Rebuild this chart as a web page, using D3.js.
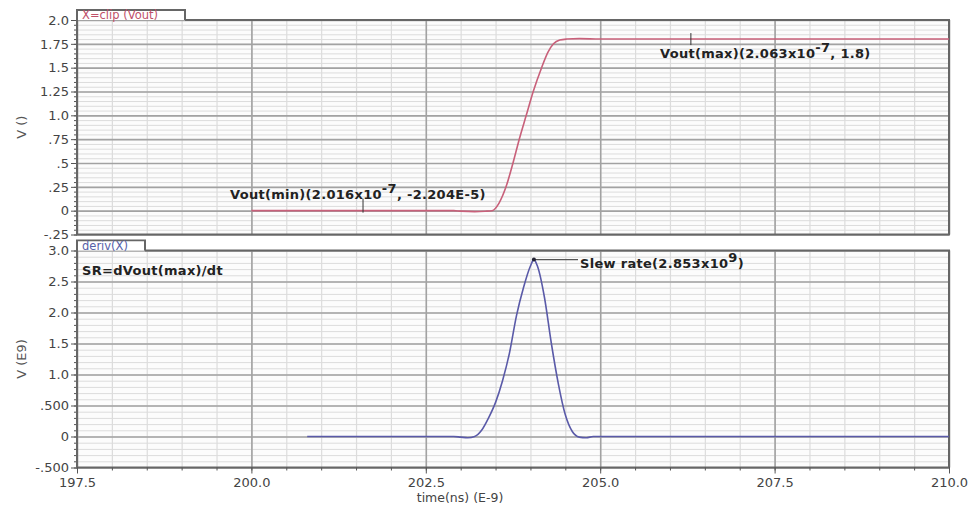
<!DOCTYPE html>
<html>
<head>
<meta charset="utf-8">
<script src="https://cdn.jsdelivr.net/npm/d3@7"></script>
<style>
  html, body { margin: 0; padding: 0; background: #fff; }
  svg { display: block; font-family: "DejaVu Sans", sans-serif; }
</style>
</head>
<body>
<svg id="chart" width="975" height="507"></svg>
<script>
// Transient output voltage (V) vs time (ns)
const voutTime = [200.0, 202.5, 202.9, 203.0, 203.2, 203.35, 203.45, 203.55, 203.65, 203.75, 203.84, 203.94, 204.04, 204.16, 204.25, 204.33, 204.42, 204.52, 204.7, 205.0, 210.0];
const voutValue = [0, 0, 0, -0.005, -0.01, -0.006, 0.0, 0.08, 0.25, 0.50, 0.75, 1.00, 1.25, 1.50, 1.66, 1.75, 1.79, 1.80, 1.805, 1.80, 1.80];

// Derivative of Vout (V/s, in units of 1e9)
const derivTime = [200.8, 202.9, 203.0, 203.1, 203.2, 203.3, 203.4, 203.5, 203.6, 203.7, 203.8, 203.9, 204.0, 204.05, 204.1, 204.2, 204.3, 204.4, 204.5, 204.6, 204.7, 204.8, 204.9, 210.0];
const derivValue = [0, 0, -0.01, -0.02, 0.0, 0.1, 0.3, 0.55, 0.9, 1.35, 1.95, 2.4, 2.75, 2.853, 2.75, 2.25, 1.5, 0.85, 0.35, 0.08, -0.01, -0.02, 0, 0];

// Axis ticks and labels
const xTicks = [197.5, 200.0, 202.5, 205.0, 207.5, 210.0];
const xTickLabels = ["197.5", "200.0", "202.5", "205.0", "207.5", "210.0"];
const topTicks = [2.0, 1.75, 1.5, 1.25, 1.0, 0.75, 0.5, 0.25, 0, -0.25];
const topTickLabels = ["2.0", "1.75", "1.5", "1.25", "1.0", ".75", ".5", ".25", "0", "-.25"];
const botTicks = [3.0, 2.5, 2.0, 1.5, 1.0, 0.5, 0, -0.5];
const botTickLabels = ["3.0", "2.5", "2.0", "1.5", "1.0", ".500", "0", "-.500"];

// Marker points
const voutMin = { t: 201.6, v: -2.204e-5 };
const voutMax = { t: 206.3, v: 1.8 };
const slewPeak = { t: 204.05, v: 2.853 };

const svg = d3.select("#chart");
const L = 77, R = 949;
const x = d3.scaleLinear().domain([197.5, 210]).range([L, R]);
const yTop = d3.scaleLinear().domain([-0.25, 2.0]).range([234.5, 20]);
const yBot = d3.scaleLinear().domain([-0.5, 3.0]).range([467.5, 250.5]);

const minorX = d3.range(197.5, 210.001, 0.5);
const gridMinor = "#dcdcdc", gridMajor = "#a2a2a2", frameCol = "#666";

function panel(y, majors, labels, minorStep, tabText, tabColor, tabWidth) {
  const [y0, y1] = y.domain();
  const top = y.range()[1], bottom = y.range()[0];
  const g = svg.append("g");
  g.append("rect").attr("x", L).attr("y", top).attr("width", R - L).attr("height", bottom - top).attr("fill", "#fcfcfc");

  const minorY = d3.range(y0, y1 + 1e-9, minorStep);
  // minor grid
  g.append("g").call(d3.axisLeft(y).tickValues(minorY).tickSize(-(R - L)).tickFormat(""))
    .attr("transform", `translate(${L},0)`)
    .call(a => { a.select(".domain").remove(); a.selectAll("line").attr("stroke", gridMinor).attr("stroke-width", 1); });
  g.append("g").call(d3.axisBottom(x).tickValues(minorX).tickSize(-(bottom - top)).tickFormat(""))
    .attr("transform", `translate(0,${bottom})`)
    .call(a => { a.select(".domain").remove(); a.selectAll("line").attr("stroke", gridMinor).attr("stroke-width", 1.2); });
  // major grid
  g.append("g").call(d3.axisLeft(y).tickValues(majors).tickSize(-(R - L)).tickFormat(""))
    .attr("transform", `translate(${L},0)`)
    .call(a => { a.select(".domain").remove(); a.selectAll("line").attr("stroke", gridMajor).attr("stroke-width", 1.6); });
  g.append("g").call(d3.axisBottom(x).tickValues(xTicks).tickSize(-(bottom - top)).tickFormat(""))
    .attr("transform", `translate(0,${bottom})`)
    .call(a => { a.select(".domain").remove(); a.selectAll("line").attr("stroke", gridMajor).attr("stroke-width", 1.6); });

  // left axis: minor ticks + labelled major ticks
  g.append("g").attr("transform", `translate(${L},0)`)
    .call(d3.axisLeft(y).tickValues(minorY).tickSize(3).tickFormat(""))
    .call(a => { a.select(".domain").remove(); a.selectAll("line").attr("stroke", "#555"); });
  g.append("g").attr("transform", `translate(${L},0)`)
    .call(d3.axisLeft(y).tickValues(majors).tickSize(6).tickPadding(2)
      .tickFormat((d, i) => labels[i]))
    .call(a => {
      a.select(".domain").remove();
      a.selectAll("line").attr("stroke", "#555");
      a.selectAll("text").attr("font-size", 13).attr("fill", "#444").attr("font-family", "DejaVu Sans, sans-serif");
    });

  // frame with the trace name tab
  g.append("path")
    .attr("d", `M${L + tabWidth},${top} H${R} V${bottom} H${L} V${top - 10} H${L + tabWidth} V${top}`)
    .attr("fill", "none").attr("stroke", frameCol).attr("stroke-width", 2);
  g.append("rect").attr("x", L + 1).attr("y", top - 9).attr("width", tabWidth - 2).attr("height", 9).attr("fill", "#fff");
  g.append("text").attr("x", L + 5).attr("y", top - 1).attr("font-size", 11.5).attr("fill", tabColor).text(tabText);
  return g;
}

panel(yTop, topTicks, topTickLabels, 0.05, "X=clip (Vout)", "#c0506a", 108);
panel(yBot, botTicks, botTickLabels, 0.1, "deriv(X)", "#5560a8", 68);

// bottom time axis
svg.append("g").attr("transform", `translate(0,${yBot.range()[0]})`)
  .call(d3.axisBottom(x).tickValues(minorX).tickSize(3).tickFormat(""))
  .call(a => { a.select(".domain").remove(); a.selectAll("line").attr("stroke", "#555"); });
svg.append("g").attr("transform", `translate(0,${yBot.range()[0]})`)
  .call(d3.axisBottom(x).tickValues(xTicks).tickSize(6).tickPadding(4).tickFormat((d, i) => xTickLabels[i]))
  .call(a => {
    a.select(".domain").remove();
    a.selectAll("line").attr("stroke", "#555");
    a.selectAll("text").attr("font-size", 13).attr("fill", "#444").attr("font-family", "DejaVu Sans, sans-serif");
  });

// axis titles
svg.append("text").attr("transform", `translate(26,${(yTop.range()[0] + yTop.range()[1]) / 2}) rotate(-90)`)
  .attr("text-anchor", "middle").attr("font-size", 13).attr("fill", "#555").text("V ()");
svg.append("text").attr("transform", `translate(26,${(yBot.range()[0] + yBot.range()[1]) / 2}) rotate(-90)`)
  .attr("text-anchor", "middle").attr("font-size", 13).attr("fill", "#555").text("V (E9)");
svg.append("text").attr("x", 460).attr("y", 502).attr("text-anchor", "middle")
  .attr("font-size", 12.5).attr("fill", "#444").text("time(ns) (E-9)");

// curves
const voutLine = d3.line().x(i => x(voutTime[i])).y(i => yTop(voutValue[i])).curve(d3.curveMonotoneX);
svg.append("path").attr("d", voutLine(d3.range(voutTime.length)))
  .attr("fill", "none").attr("stroke", "#c8607a").attr("stroke-width", 1.6);
const derivLine = d3.line().x(i => x(derivTime[i])).y(i => yBot(derivValue[i])).curve(d3.curveMonotoneX);
svg.append("path").attr("d", derivLine(d3.range(derivTime.length)))
  .attr("fill", "none").attr("stroke", "#5a5aa8").attr("stroke-width", 1.6);

// annotations
function label(xp, yp, parts) {
  const t = svg.append("text").attr("x", xp).attr("y", yp).attr("font-size", 13)
    .attr("font-weight", "bold").attr("fill", "#222").attr("letter-spacing", 0.3);
  parts.forEach(p => {
    if (p.sup) t.append("tspan").attr("dy", -6).attr("font-size", 13).text(p.sup);
    else t.append("tspan").attr("dy", p.down ? 6 : 0).text(p.text);
  });
  return t;
}

// Vout(min)
svg.append("line").attr("x1", x(voutMin.t)).attr("x2", x(voutMin.t))
  .attr("y1", yTop(voutMin.v) - 12).attr("y2", yTop(voutMin.v) + 2).attr("stroke", "#333");
label(230, 199, [{ text: "Vout(min)(2.016x10" }, { sup: "-7" }, { text: ", -2.204E-5)", down: true }]);

// Vout(max)
svg.append("line").attr("x1", x(voutMax.t)).attr("x2", x(voutMax.t))
  .attr("y1", yTop(voutMax.v) - 6).attr("y2", yTop(voutMax.v) + 6).attr("stroke", "#333");
label(660, 58, [{ text: "Vout(max)(2.063x10" }, { sup: "-7" }, { text: ", 1.8)", down: true }]);

// Slew rate
svg.append("line").attr("x1", x(slewPeak.t)).attr("x2", 578)
  .attr("y1", yBot(slewPeak.v)).attr("y2", yBot(slewPeak.v)).attr("stroke", "#555").attr("stroke-width", 1.2);
svg.append("circle").attr("cx", x(slewPeak.t)).attr("cy", yBot(slewPeak.v)).attr("r", 2).attr("fill", "#223");
label(580, 268, [{ text: "Slew rate(2.853x10" }, { sup: "9" }, { text: ")", down: true }]);

label(82, 275, [{ text: "SR=dVout(max)/dt" }]);
</script>
</body>
</html>
